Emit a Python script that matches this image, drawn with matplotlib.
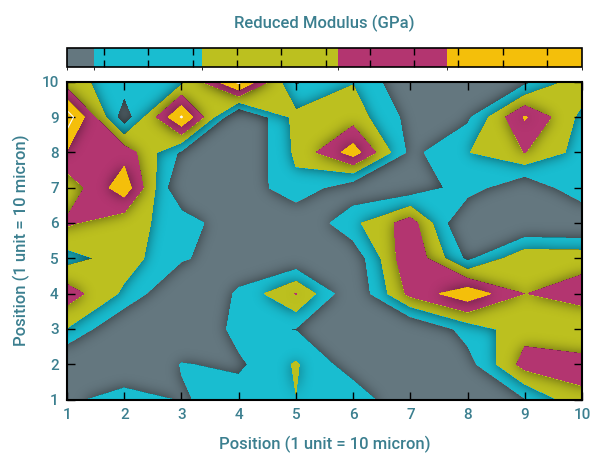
import numpy as np
import matplotlib
matplotlib.use('Agg')
import matplotlib.pyplot as plt
from matplotlib.colors import ListedColormap, BoundaryNorm, to_rgb
from matplotlib.figure import Figure
from matplotlib.backends.backend_agg import FigureCanvasAgg
import matplotlib.cm as cm

plt.rcParams['font.family'] = ['Roboto', 'DejaVu Sans']

x_pos = np.arange(1, 11)
y_pos = np.arange(1, 11)

# reduced modulus (GPa), one row per y position, y = 1 (bottom) .. 10 (top)
row_y1 = [22, 44.8, 27.6, 40, 49.6, 44, 8, 10, 28, 66]
row_y2 = [4, 0, 31, 26, 52, 18, 6, 21, 78, 76]
row_y3 = [49, 6, 4, 37, 29, 10, 5, 38, 62, 56]
row_y4 = [80, 46, 4, 33, 71, 10, 76, 104, 69.6, 77]
row_y5 = [42, 59, 32.6, 16, 11, 14, 88, 25, 65, 64]
row_y6 = [73, 56, 43, 10, 8, 45, 80, 2, 6, 4]
row_y7 = [56, 102, 6, 13, 45, 14, 16, 40, 10, 47]
row_y8 = [88, 82, 26, 4.6, 53.4, 99.8, 24, 49, 70.4, 41.4]
row_y9 = [122, 16, 112, 2, 56, 60, 23, 25.6, 92, 44]
row_y10 = [56.8, 40, 44, 116, 27, 49, 11, 6, 24, 62.6]

modulus = np.array([row_y1, row_y2, row_y3, row_y4, row_y5,
                    row_y6, row_y7, row_y8, row_y9, row_y10])

band_colors = ['#64777f', '#19bdd0', '#bcc01f', '#b33570', '#f4bf0a']
fill_levels = [-5, 30, 50, 70, 90, 140]
peak_level = [110]

# colour bar as drawn in the original figure
cbar_bounds = [1.6, 7.8, 32.1, 62.9, 87.5, 117.9]
cbar_ticks = np.arange(10, 111, 10)

text_color = '#3b7f8f'
font_kw = dict(fontsize=12, color=text_color, fontweight='medium')

X, Y = np.meshgrid(x_pos, y_pos)


def band_index(w, h):
    # render the filled contours off screen and read back which band each pixel is in
    f2 = Figure(figsize=(w / 100, h / 100), dpi=100)
    FigureCanvasAgg(f2)
    a2 = f2.add_axes([0, 0, 1, 1])
    a2.contourf(X, Y, modulus, levels=fill_levels, colors=band_colors, antialiased=False)
    a2.set_xlim(1, 10)
    a2.set_ylim(1, 10)
    a2.axis('off')
    f2.canvas.draw()
    rgb = np.asarray(f2.canvas.buffer_rgba())[:, :, :3].astype(float)
    pal = np.array([to_rgb(c) for c in band_colors]) * 255
    d = ((rgb[:, :, None, :] - pal[None, None, :, :]) ** 2).sum(-1)
    return d.argmin(-1)


def blur(img, sigma):
    r = int(3 * sigma)
    k = np.exp(-0.5 * (np.arange(-r, r + 1) / sigma) ** 2)
    k /= k.sum()
    pad = np.pad(img, r, mode='edge')
    tmp = np.apply_along_axis(lambda m: np.convolve(m, k, mode='valid'), 0, pad)
    return np.apply_along_axis(lambda m: np.convolve(m, k, mode='valid'), 1, tmp)


fig = plt.figure(figsize=(5.91, 4.54), dpi=100)
ax = fig.add_axes([0.1134, 0.12, 0.8714, 0.70])
cax = fig.add_axes([0.1134, 0.852, 0.8714, 0.042])

ax.contourf(X, Y, modulus, levels=fill_levels, colors=band_colors, zorder=1)

# soft shadow cast by each higher band onto the band below it
bands = band_index(515, 318)
shade = np.zeros(bands.shape)
for k in range(1, len(band_colors)):
    m = (bands >= k).astype(float)
    shade += blur(m, 6.5) * (1 - m)
overlay = np.zeros(bands.shape + (4,))
overlay[..., 3] = 0.55 * np.clip(shade, 0, 1)
ax.imshow(overlay, extent=(1, 10, 1, 10), origin='upper', interpolation='bilinear',
          aspect='auto', zorder=2)

ax.contour(X, Y, modulus, levels=peak_level, colors='white', linewidths=0.8, zorder=3)

ax.set_xlim(1, 10)
ax.set_ylim(1, 10)
ax.set_xticks(x_pos)
ax.set_yticks(y_pos)
ax.tick_params(direction='in', length=6, width=1, top=True, right=True,
               labelsize=11, labelcolor=text_color, pad=6)
for lab in ax.get_xticklabels() + ax.get_yticklabels():
    lab.set_fontweight('medium')
for s in ax.spines.values():
    s.set_linewidth(1.5)
    s.set_zorder(4)
ax.set_xlabel('Position (1 unit = 10 micron)', labelpad=10, **font_kw)
ax.set_ylabel('Position (1 unit = 10 micron)', labelpad=8, **font_kw)

sm = cm.ScalarMappable(norm=BoundaryNorm(cbar_bounds, 5), cmap=ListedColormap(band_colors))
cb = fig.colorbar(sm, cax=cax, orientation='horizontal', ticks=cbar_ticks,
                  spacing='proportional', boundaries=cbar_bounds)
cb.outline.set_linewidth(1.2)
cax.tick_params(direction='in', length=5, width=1, top=True, bottom=True,
                labelbottom=False, labeltop=False)
cax.set_title('Reduced Modulus (GPa)', pad=14, **font_kw)

fig.savefig('out.png', dpi=100)
